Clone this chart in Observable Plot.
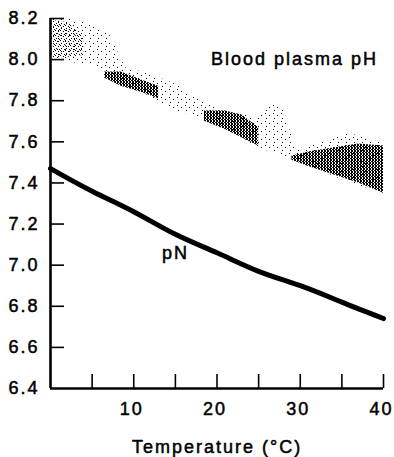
<!DOCTYPE html>
<html><head><meta charset="utf-8">
<script src="https://cdn.jsdelivr.net/npm/d3@7"></script>
<script src="https://cdn.jsdelivr.net/npm/@observablehq/plot@0.6"></script>
<style>
body{margin:0;background:#fff}
#chart svg text{stroke:#000;stroke-width:0.5px}
</style>
</head><body><div id="chart"></div>
<script>
// pN line (temperature °C -> pN)
const pnTemp  = [0, 5, 10, 15, 20, 25, 30, 35, 40];
const pnValue = [7.47, 7.36, 7.26, 7.15, 7.06, 6.97, 6.90, 6.82, 6.74];

// Blood plasma pH scatter envelope (sparse stipple)
const bandTemp = [0, 2, 5, 7, 9, 12, 15, 18, 20, 23, 25, 26.5, 28, 29.5, 33, 36, 40];
const bandLow  = [8.00, 7.99, 7.97, 7.92, 7.87, 7.82, 7.75, 7.72, 7.69, 7.62, 7.57, 7.55, 7.53, 7.51, 7.45, 7.40, 7.35];
const bandHigh = [8.20, 8.20, 8.17, 8.13, 7.96, 7.93, 7.88, 7.80, 7.76, 7.73, 7.72, 7.79, 7.76, 7.56, 7.60, 7.64, 7.59];

// Dense clusters of the pH data
const coreId   = ["A", "A", "A", "B", "B", "B", "B", "C", "C", "C", "C", "D", "D", "D", "D", "D"];
const coreTemp = [0, 2, 4, 6.5, 8.5, 11, 13, 18.5, 21, 23, 25, 29, 31, 34, 37, 40];
const coreLow  = [8.01, 8.01, 8.02, 7.91, 7.87, 7.84, 7.81, 7.70, 7.66, 7.62, 7.58, 7.51, 7.48, 7.44, 7.40, 7.35];
const coreHigh = [8.19, 8.18, 8.12, 7.94, 7.94, 7.90, 7.87, 7.75, 7.75, 7.73, 7.67, 7.53, 7.55, 7.57, 7.59, 7.58];

// axes
const yTickValues = [6.4, 6.6, 6.8, 7.0, 7.2, 7.4, 7.6, 7.8, 8.0, 8.2];
const yTickMarks  = [6.6, 6.8, 7.0, 7.2, 7.4, 7.6, 7.8, 8.0, 8.2];
const xTickLabels = [10, 20, 30, 40];
const xTickMarks  = [5, 10, 15, 20, 25, 30, 35, 40];

const labels = [
  {t: 29.3, v: 8.0, text: "Blood plasma pH"},
  {t: 15.0, v: 7.06, text: "pN"}
];

const W = 394, H = 457, mL = 50, mR = 11, mT = 18, mB = 69;
const plotW = W - mL - mR, plotH = H - mT - mB;

const pnData = pnTemp.map((t, i) => ({t, v: pnValue[i]}));
const band = bandTemp.map((t, i) => ({t, lo: bandLow[i], hi: bandHigh[i]}));
const core = coreTemp.map((t, i) => ({id: coreId[i], t, lo: coreLow[i], hi: coreHigh[i]}));

const svg = Plot.plot({
  width: W, height: H,
  marginLeft: mL, marginRight: mR, marginTop: mT, marginBottom: mB,
  style: {fontFamily: "'Liberation Sans', Arial, sans-serif", fontSize: "18px", letterSpacing: "2px", color: "#000", background: "#fff"},
  x: {domain: [0, 40]},
  y: {domain: [6.4, 8.2]},
  marks: [
    Plot.areaY(band, {x: "t", y1: "lo", y2: "hi", fill: "url(#stipSparse)"}),
    Plot.areaY(core.filter(d => d.id === "A"), {x: "t", y1: "lo", y2: "hi", z: "id", fill: "url(#stipMedium)"}),
    Plot.areaY(core.filter(d => d.id !== "A"), {x: "t", y1: "lo", y2: "hi", z: "id", fill: "url(#stipDense)"}),
    Plot.line(pnData, {x: "t", y: "v", stroke: "#000", strokeWidth: 5, curve: "natural"}),
    Plot.tickY(yTickMarks, {y: d => d, insetRight: plotW - 14, stroke: "#000", strokeWidth: 1.6}),
    Plot.tickX(xTickMarks, {x: d => d, insetTop: plotH - 14, stroke: "#000", strokeWidth: 1.6}),
    Plot.ruleX([0], {stroke: "#000", strokeWidth: 2.6}),
    Plot.ruleY([6.4], {stroke: "#000", strokeWidth: 2.6}),
    Plot.axisY({ticks: yTickValues, tickSize: 0, tickPadding: 11, tickFormat: d3.format(".1f"), label: null}),
    Plot.axisX({ticks: xTickLabels, tickSize: 0, tickPadding: 14, dx: -2, tickFormat: d => d, label: null}),
    Plot.axisX({ticks: [], tickSize: 0, label: "Temperature (°C)", labelAnchor: "center", labelArrow: "none", labelOffset: 64}),
    Plot.text(labels, {x: "t", y: "v", text: "text", fill: "#000", textAnchor: "middle", lineAnchor: "middle"})
  ]
});

const defs = d3.select(svg).insert("defs", ":first-child");
const sp = defs.append("pattern").attr("id", "stipSparse").attr("patternUnits", "userSpaceOnUse").attr("width", 8).attr("height", 8);
[[1,1],[5,3],[2,6]].forEach(([x, y]) => sp.append("rect").attr("x", x).attr("y", y).attr("width", 1).attr("height", 1).attr("fill", "#000"));
const md = defs.append("pattern").attr("id", "stipMedium").attr("patternUnits", "userSpaceOnUse").attr("width", 5).attr("height", 5);
[[0,0],[3,1],[1,3],[4,4]].forEach(([x, y]) => md.append("rect").attr("x", x).attr("y", y).attr("width", 1).attr("height", 1).attr("fill", "#000"));
const dn = defs.append("pattern").attr("id", "stipDense").attr("patternUnits", "userSpaceOnUse").attr("width", 3).attr("height", 3);
[[0,0,2,2],[2,2,1,1],[0,2,1,1]].forEach(([x, y, w, h]) => dn.append("rect").attr("x", x).attr("y", y).attr("width", w).attr("height", h).attr("fill", "#000"));

document.getElementById("chart").append(svg);
</script>
</body></html>
